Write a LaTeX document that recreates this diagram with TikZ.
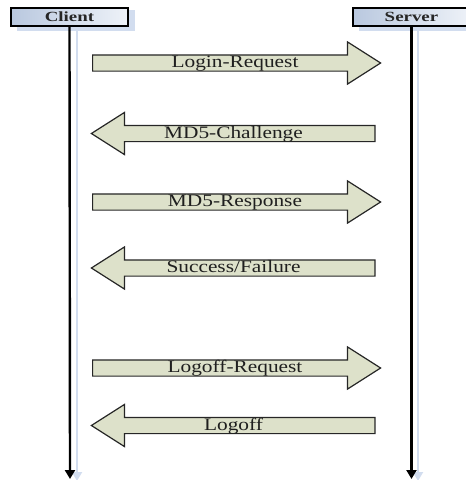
\documentclass[tikz,border=0pt]{standalone}
\usepackage{fontspec}
\setmainfont{Liberation Serif}
\usepackage{graphicx}
\usetikzlibrary{shapes.arrows,arrows.meta}
\definecolor{arrowfill}{HTML}{DDE1CA}
\definecolor{boxleft}{HTML}{B9C8DF}
\definecolor{boxright}{HTML}{EEF2F8}
\definecolor{shadowblue}{HTML}{D2DDEF}
\tikzset{
  actor/.style={draw=black, line width=2pt, left color=boxleft, right color=boxright,
    minimum width=117pt, minimum height=18pt, inner sep=0pt,
    font=\fontsize{14}{14}\selectfont\bfseries, text=black!85},
  actorshadow/.style={fill=shadowblue, draw=none},
  lifeline/.style={line width=2.4pt, -{Triangle[length=9pt,width=10pt]}},
  lifeshadow/.style={line width=2.6pt, draw=shadowblue, -{Triangle[length=9pt,width=10pt]}},
  msg/.style={single arrow, draw=black!85, line width=1.2pt, fill=arrowfill,
    single arrow head extend=13pt, single arrow tip angle=65,
    inner xsep=0pt, inner ysep=0pt, text height=11pt, text depth=4pt, anchor=tail},
  msgright/.style={msg, minimum height=288pt},
  msgleft/.style={msg, minimum height=283.5pt, shape border rotate=180},
  msglabel/.style={anchor=base, inner sep=0pt, font=\fontsize{17.5}{17.5}\selectfont, text=black!88},
}
\newcommand{\wide}[1]{\scalebox{1.22}[1]{#1}}
\newcommand{\widebold}[1]{\scalebox{1.35}[1]{#1}}
\begin{document}
\begin{tikzpicture}[x=1pt,y=-1pt]
\useasboundingbox (0,0) rectangle (466,480);
% box shadows
\fill[actorshadow] (17,10) rectangle (135,31);
\fill[actorshadow] (359,10) rectangle (476,31);
% lifeline shadows
\coordinate (cs0) at (77,28);
\coordinate (cs1) at (77,481);
\coordinate (ss0) at (418,28);
\coordinate (ss1) at (418,481);
\draw[lifeshadow] (cs0) -- (cs1);
\draw[lifeshadow] (ss0) -- (ss1);
% actors
\node[actor] (client) at (69.5,16.5) {\widebold{Client}};
\node[actor] (server) at (411.5,16.5) {\widebold{Server}};
\coordinate (clientEnd) at (70,479);
\coordinate (serverEnd) at (411.5,479);
\draw[lifeline] (client.south) -- (clientEnd);
\draw[lifeline] (server.south) -- (serverEnd);
% messages
\node[msgright] (m1) at (92,63) {};
\node[msgleft]  (m2) at (375.5,133.5) {};
\node[msgright] (m3) at (92,202) {};
\node[msgleft]  (m4) at (375.5,268) {};
\node[msgright] (m5) at (92,368) {};
\node[msgleft]  (m6) at (375.5,425.5) {};
% labels
\node[msglabel] (l1) at (235,67.5) {\wide{Login-Request}};
\node[msglabel] (l2) at (233.5,138) {\wide{MD5-Challenge}};
\node[msglabel] (l3) at (235,206.5) {\wide{MD5-Response}};
\node[msglabel] (l4) at (233.5,272.5) {\wide{Success/Failure}};
\node[msglabel] (l5) at (235,372.5) {\wide{Logoff-Request}};
\node[msglabel] (l6) at (233.5,430) {\wide{Logoff}};
\end{tikzpicture}
\end{document}
